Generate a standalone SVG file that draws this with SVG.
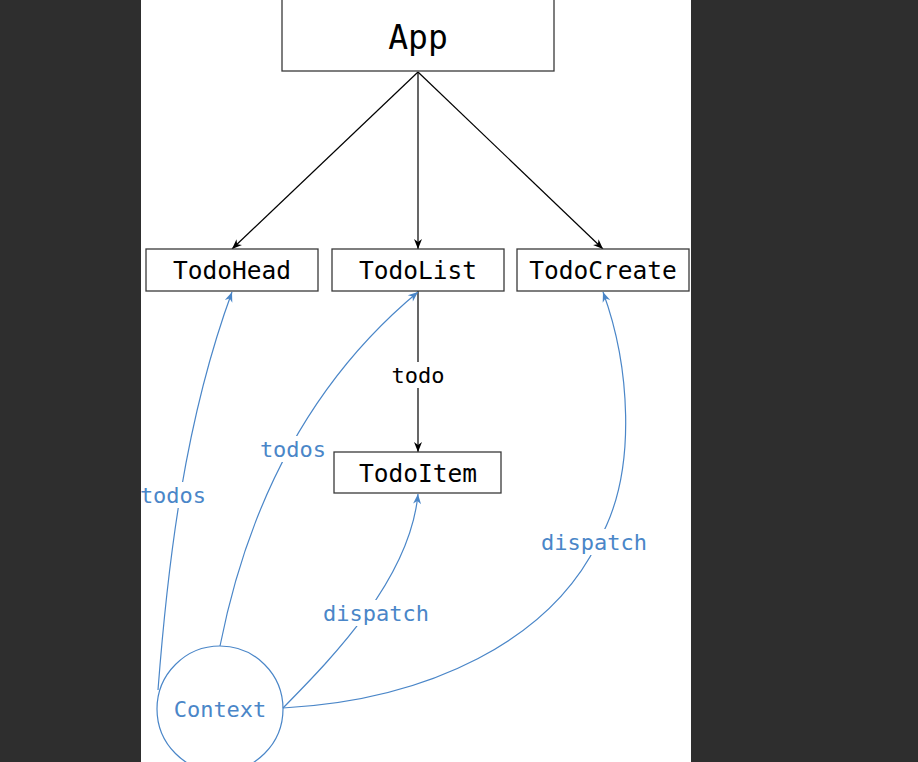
<svg xmlns="http://www.w3.org/2000/svg" width="918" height="762" viewBox="0 0 918 762">
  <style>
    .box{fill:#ffffff;stroke:#3a3a3a;stroke-width:1.3}
    .lbl{font-family:"DejaVu Sans Mono","Liberation Mono",monospace;text-anchor:middle;dominant-baseline:central}
    .node{font-size:24.5px;fill:#000}
    .small{font-size:22px}
    .blue{fill:#4a86c8}
    .dark{fill:#000}
    .edge{fill:none;stroke:#000;stroke-width:1.2}
    .bedge{fill:none;stroke:#4a86c8;stroke-width:1.2}
  </style>
  <defs>
    <marker id="ab" viewBox="-11 -5 12 10" refX="0" refY="0" markerWidth="12" markerHeight="10" markerUnits="userSpaceOnUse" orient="auto">
      <path d="M0,0 L-10,-4 L-7,0 L-10,4 Z" fill="#000"/>
    </marker>
    <marker id="ablue" viewBox="-11 -5 12 10" refX="0" refY="0" markerWidth="12" markerHeight="10" markerUnits="userSpaceOnUse" orient="auto">
      <path d="M0,0 L-10,-4 L-7,0 L-10,4 Z" fill="#4a86c8"/>
    </marker>
  </defs>
  <rect x="0" y="0" width="918" height="762" fill="#2e2e2e"/>
  <rect x="141" y="0" width="550" height="762" fill="#ffffff"/>

  <g id="connectors">
    <path class="edge" d="M418,72 L232,249" marker-end="url(#ab)"/>
    <path class="edge" d="M418,72 L418,249" marker-end="url(#ab)"/>
    <path class="edge" d="M418,72 L603,249" marker-end="url(#ab)"/>
    <path class="edge" d="M418,291 L418,452" marker-end="url(#ab)"/>
    <rect x="388" y="362" width="60" height="26" fill="#fff"/>
    <text class="lbl small dark" x="418" y="375">todo</text>

    <path class="bedge" d="M158,690 C168,560 185,420 232,292" marker-end="url(#ablue)"/>
    <path class="bedge" d="M220,646 C245,520 300,390 418,292" marker-end="url(#ablue)"/>
    <path class="bedge" d="M283,708 C330,660 410,580 418,494" marker-end="url(#ablue)"/>
    <path class="bedge" d="M283,708 C430,700 550,640 598,542 C640,470 628,360 603,292" marker-end="url(#ablue)"/>

    <rect x="141" y="482" width="65" height="26" fill="#fff"/>
    <text class="lbl small blue" x="173" y="495">todos</text>
    <rect x="260" y="436" width="66" height="26" fill="#fff"/>
    <text class="lbl small blue" x="293" y="449">todos</text>
    <rect x="322" y="600" width="108" height="26" fill="#fff"/>
    <text class="lbl small blue" x="376" y="613">dispatch</text>
    <rect x="540" y="529" width="108" height="26" fill="#fff"/>
    <text class="lbl small blue" x="594" y="542">dispatch</text>
  </g>

  <g id="App">
    <rect class="box" x="282" y="-2" width="272" height="73"/>
    <text class="lbl" x="418" y="37" style="font-size:33px">App</text>
  </g>
  <g id="TodoHead">
    <rect class="box" x="146" y="249" width="172" height="42"/>
    <text class="lbl node" x="232" y="270">TodoHead</text>
  </g>
  <g id="TodoList">
    <rect class="box" x="332" y="249" width="172" height="42"/>
    <text class="lbl node" x="418" y="270">TodoList</text>
  </g>
  <g id="TodoCreate">
    <rect class="box" x="517" y="249" width="172" height="42"/>
    <text class="lbl node" x="603" y="270">TodoCreate</text>
  </g>
  <g id="TodoItem">
    <rect class="box" x="334" y="452" width="167" height="41"/>
    <text class="lbl node" x="418" y="473">TodoItem</text>
  </g>
  <g id="Context">
    <ellipse cx="220" cy="709" rx="63" ry="63" fill="none" stroke="#4a86c8" stroke-width="1.2"/>
    <text class="lbl small blue" x="220" y="709">Context</text>
  </g>
</svg>
